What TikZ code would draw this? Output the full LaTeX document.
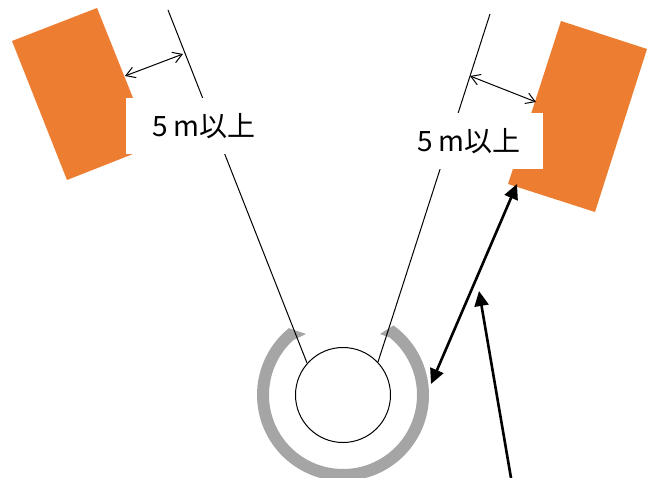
\documentclass[tikz,border=0pt]{standalone}
\usepackage{fontspec}
\setmainfont{Noto Sans CJK JP}
\usetikzlibrary{arrows.meta}
\definecolor{house}{HTML}{ED7D31}
\definecolor{ring}{HTML}{A5A5A5}
\tikzset{
  thinline/.style={draw=black,line width=1pt},
  gaparrow/.style={thinline,{Straight Barb[length=9pt,width=11pt]}-{Straight Barb[length=9pt,width=11pt]}},
  thickarrow/.style={draw=black,line width=2.6pt},
  gaplabel/.style={fill=white,inner sep=0pt,minimum height=56pt,font=\fontsize{28}{28}\selectfont}
}
\begin{document}
\begin{tikzpicture}[x=1pt,y=-1pt]
  \useasboundingbox (0,0) rectangle (650,478);

  % houses
  \fill[house] (12,41) -- (97,8) -- (133,98) -- (133,154) -- (67,180) -- cycle;
  \fill[house] (561,21) -- (647,49) -- (595,212) -- (508,184) -- (531,114) -- cycle;

  % ring
  \coordinate (well centre) at (343,395);
  \fill[ring] ([shift={(306:86)}]well centre) arc[start angle=306,end angle=591,radius=86]
    -- (306,334) -- ([shift={(228:74)}]well centre)
    arc[start angle=588,end angle=309,radius=74]
    -- (380,334) -- cycle;

  % sight lines
  \coordinate (left top) at (168,10);
  \coordinate (left foot) at (307,363);
  \coordinate (right top) at (490,14);
  \coordinate (right foot) at (378,362);
  \draw[thinline] (left top) -- (left foot);
  \draw[thinline] (right top) -- (right foot);

  % labels
  \node[gaplabel,minimum width=156pt] (left label) at (204,126) {\raisebox{1.5pt}{5 m以上}};
  \node[gaplabel,minimum width=148pt] (right label) at (469,141) {\raisebox{1.5pt}{5 m以上}};

  % well
  \node[circle,draw=black,fill=white,line width=1pt,minimum size=95pt,inner sep=0pt] (well) at (well centre) {};

  % 5 m gaps
  \coordinate (left wall) at (125,76);
  \coordinate (left line) at (183,54);
  \coordinate (right line) at (470,76);
  \coordinate (right wall) at (536,102);
  \draw[gaparrow] (left wall) -- (left line);
  \draw[gaparrow] (right line) -- (right wall);

  % distance
  \coordinate (house corner) at (517,184);
  \coordinate (ring edge) at (431,384);
  \coordinate (pointer tail) at (511,478);
  \coordinate (pointer tip) at (479,291);
  \draw[thickarrow,{Triangle[length=15pt,width=14pt]}-{Triangle[length=15pt,width=14pt]}] (house corner) -- (ring edge);
  \draw[thickarrow,-{Triangle[length=15pt,width=14pt]}] (pointer tail) -- (pointer tip);
\end{tikzpicture}
\end{document}
